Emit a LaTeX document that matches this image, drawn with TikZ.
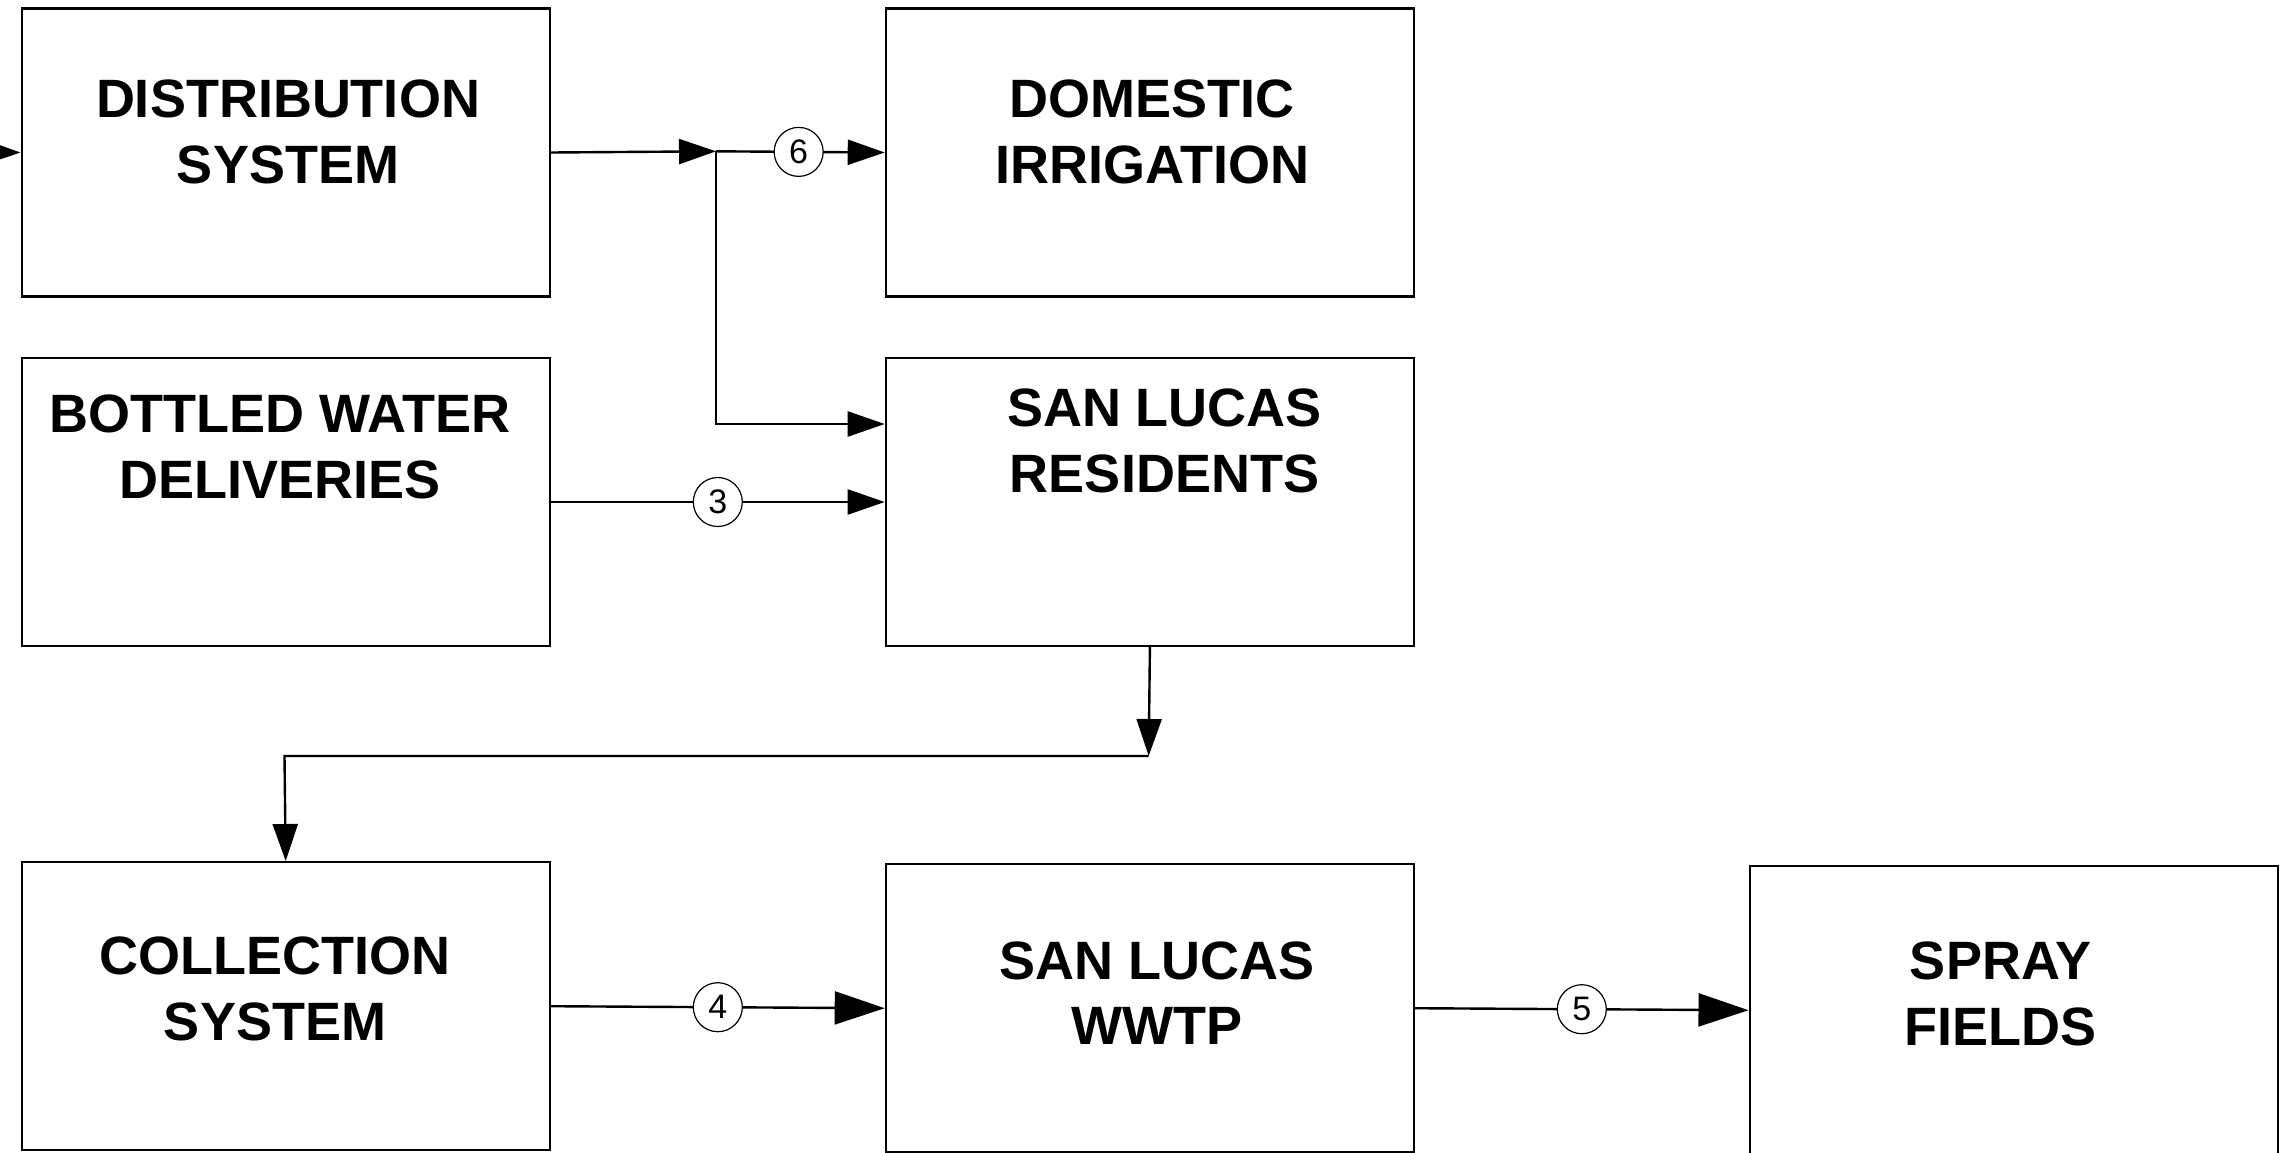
\documentclass[tikz,border=0pt]{standalone}
\usepackage{fontspec}
\setmainfont{Liberation Sans}
\usetikzlibrary{arrows.meta}
\begin{document}
\begin{tikzpicture}[x=1pt,y=-1pt,
  box/.style={draw=black,line width=2.4pt,rectangle,inner sep=0pt,
    minimum width=528pt,minimum height=288pt,anchor=north west},
  boxtext/.style={align=center,inner sep=0pt,anchor=center,
    font=\fontsize{54}{65.5}\selectfont\bfseries},
  numc/.style={circle,draw=black,line width=1.2pt,fill=white,inner sep=0pt,
    minimum size=49pt,font=\fontsize{34}{40}\selectfont},
  flow/.style={line width=2.4pt,draw=black},
  sarr/.style={flow,-{Triangle[length=37pt,width=25pt]}},
  larr/.style={flow,-{Triangle[length=50pt,width=33pt]}}]
\useasboundingbox (0,0) rectangle (2293,1152);
% boxes
\node[box] (dist) at (20.5,7.3) {};
\node[box] (dom) at (884.7,7.3) {};
\node[box] (bot) at (20.5,356.8) {};
\node[box] (res) at (884.7,356.8) {};
\node[box] (coll) at (20.5,861) {};
\node[box] (wwtp) at (884.7,863) {};
\node[box] (spray) at (1748.5,865) {};
% texts
\node[boxtext] (distt) at (288,132) {DISTRIBUTION\\SYSTEM};
\node[boxtext] (domt) at (1152,132) {DOMESTIC\\IRRIGATION};
\node[boxtext] (bott) at (280,447) {BOTTLED WATER\\DELIVERIES};
\node[boxtext] (rest) at (1164.5,440.7) {SAN LUCAS\\RESIDENTS};
\node[boxtext] (collt) at (275,989) {COLLECTION\\SYSTEM};
\node[boxtext] (wwtpt) at (1157,993) {SAN LUCAS\\WWTP};
\node[boxtext] (sprayt) at (2000.5,994) {SPRAY\\FIELDS};
% coordinates
\coordinate (src) at (-120,151.3);
\coordinate (j1) at (716,151.3);
\coordinate (j2) at (716,424);
\coordinate (k1) at (1148.7,756);
\coordinate (k2) at (284.5,756);
% connectors
\draw[sarr] (src) -- (dist.west);
\draw[sarr] (dist.east) -- (j1);
\draw[sarr] (j1) -- node[numc,pos=0.49] (n6) {6} (dom.west);
\draw[sarr] (j1) -- (j2) -- (res.west |- j2);
\draw[sarr] (bot.east) -- node[numc] (n3) {3} (res.west);
\draw[sarr] (res.south) -- (k1);
\draw[sarr] (k1) -- (k2) -- (coll.north);
\draw[larr] (coll.east) -- node[numc] (n4) {4} (wwtp.west);
\draw[larr] (wwtp.east) -- node[numc] (n5) {5} (spray.west);
\end{tikzpicture}
\end{document}
